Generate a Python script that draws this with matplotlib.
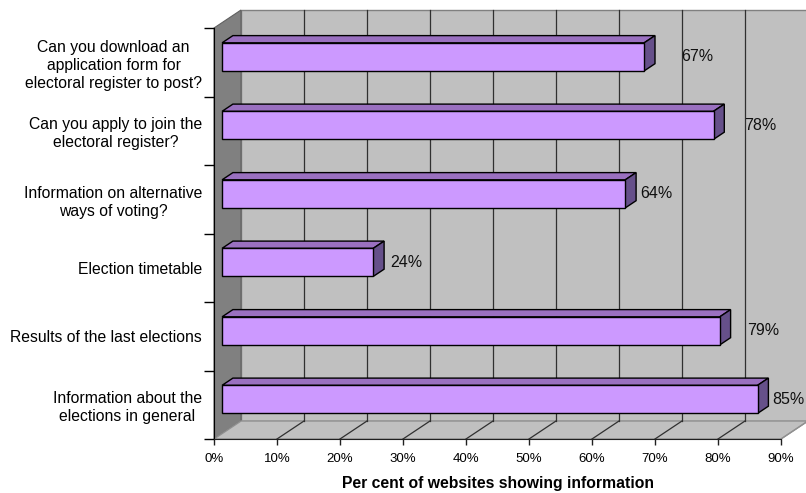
import matplotlib.pyplot as plt
from matplotlib.patches import Polygon

plt.rcParams['font.family'] = ['Liberation Sans', 'DejaVu Sans']

# categories from top to bottom
questions = [
    "Can you download an\napplication form for\nelectoral register to post?",
    "Can you apply to join the\nelectoral register?",
    "Information on alternative\nways of voting?",
    "Election timetable",
    "Results of the last elections",
    "Information about the\nelections in general",
]
percent = [67, 78, 64, 24, 79, 85]
label_pad = [5.9, 4.8, 2.4, 2.7, 4.3, 2.4]   # extra room right of each bar label
x_ticks = [0, 10, 20, 30, 40, 50, 60, 70, 80, 90]
x_ticklabels = [f"{t}%" for t in x_ticks]

W, H = 806, 493
fig = plt.figure(figsize=(W / 100, H / 100), dpi=100)
ax = fig.add_axes([214 / W, (H - 439) / H, 567 / W, 411 / H])
xmax, ncat = 90, len(questions)
ax.set_xlim(0, xmax)
ax.set_ylim(0, ncat)

# depth of the 3d box, in data units
DX, DY = 27 / 6.3, 18 / 68.5
d0, d1 = 0.3, 0.7          # bar front/back depth
bar_h = 0.41

wall = '#c0c0c0'
side_wall = '#808080'

def poly(pts, **kw):
    p = Polygon(pts, closed=True, clip_on=False, **kw)
    ax.add_patch(p)
    return p

# back wall, left wall, floor
poly([(DX, DY), (xmax + DX, DY), (xmax + DX, ncat + DY), (DX, ncat + DY)],
     facecolor=wall, edgecolor='#808080', lw=1, zorder=0)
poly([(0, 0), (DX, DY), (DX, ncat + DY), (0, ncat)],
     facecolor=side_wall, edgecolor='#606060', lw=0.8, zorder=1)
poly([(0, 0), (xmax, 0), (xmax + DX, DY), (DX, DY)],
     facecolor=wall, edgecolor='#909090', lw=1, zorder=1)

for t in x_ticks[1:]:
    if t < xmax:
        ax.plot([t + DX, t + DX], [DY, ncat + DY], color='#303030', lw=0.9,
                zorder=2, clip_on=False)
    ax.plot([t, t + DX], [0, DY], color='#303030' if t < xmax else '#909090',
            lw=0.9, zorder=2, clip_on=False)

# 3d bars
front = '#cc99ff'
top = '#9a70c0'
side = '#66508a'
for i, (v, pad) in enumerate(zip(percent, label_pad)):
    c = ncat - 0.5 - i
    x0 = d0 * DX
    x1 = v + d0 * DX
    yb = c - bar_h / 2 + d0 * DY
    yt = c + bar_h / 2 + d0 * DY
    ddx, ddy = (d1 - d0) * DX, (d1 - d0) * DY
    poly([(x0, yt), (x1, yt), (x1 + ddx, yt + ddy), (x0 + ddx, yt + ddy)],
         facecolor=top, edgecolor='black', lw=1, zorder=4)
    poly([(x1, yb), (x1, yt), (x1 + ddx, yt + ddy), (x1 + ddx, yb + ddy)],
         facecolor=side, edgecolor='black', lw=1, zorder=4)
    poly([(x0, yb), (x1, yb), (x1, yt), (x0, yt)],
         facecolor=front, edgecolor='black', lw=1, zorder=5)
    ax.text(x1 + pad, c + d0 * DY, f"{v}%", fontsize=11.5,
            ha='left', va='center', color='#111111', zorder=6)

# axes
for s in ['top', 'right']:
    ax.spines[s].set_visible(False)
ax.spines['left'].set_color('black')
ax.spines['bottom'].set_color('#202020')
ax.spines['left'].set_zorder(3)
ax.spines['bottom'].set_zorder(3)
ax.set_facecolor('none')

ax.set_xticks(x_ticks)
ax.set_xticklabels(x_ticklabels, fontsize=9.5)
ax.tick_params(axis='x', length=4, width=1, pad=6, color='#202020')

ax.set_yticks(range(ncat + 1))
ax.set_yticklabels([])
ax.tick_params(axis='y', which='major', length=7, width=1, color='black')
ax.set_yticks([ncat - 0.5 - i for i in range(ncat)], minor=True)
ax.set_yticklabels(questions, minor=True, fontsize=11.3, linespacing=1.25)
ax.tick_params(axis='y', which='minor', length=0, pad=8.6)
for lab in ax.get_yticklabels(minor=True):
    lab.set_multialignment('center')

ax.set_xlabel('Per cent of websites showing information', fontsize=11.3,
              fontweight='bold', labelpad=8)

fig.savefig('out.png', dpi=100)
